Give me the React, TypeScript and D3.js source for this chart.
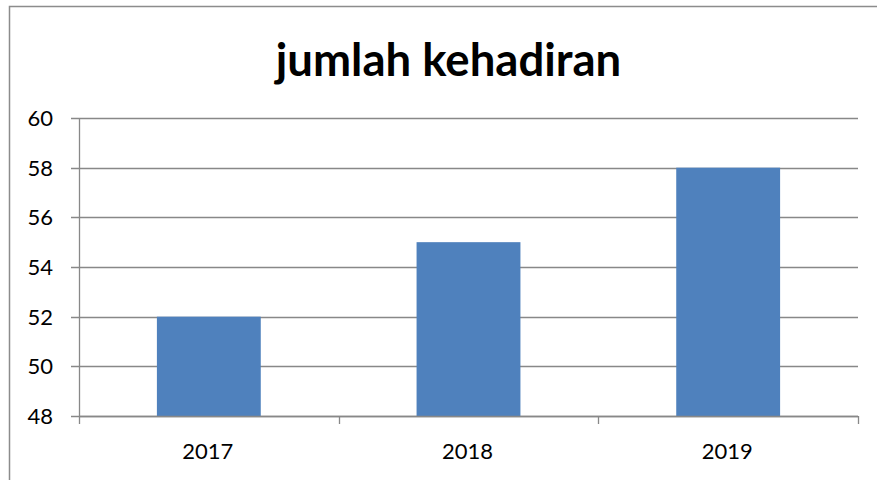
import React from "react";
import * as d3 from "d3";

const categories = ["2017", "2018", "2019"];
const values = [52, 55, 58];
const yTicks = [48, 50, 52, 54, 56, 58, 60];
const title = "jumlah kehadiran";

export default function App() {
  const W = 877, H = 480;
  const left = 79, right = 858, top = 118, bottom = 416;
  const x = d3.scaleBand().domain(categories).range([left, right]).paddingInner(0.6).paddingOuter(0.3);
  const xb = d3.scaleBand().domain(categories).range([left, right]);
  const y = d3.scaleLinear().domain([48, 60]).range([bottom, top]);
  const font = "Lato, 'Open Sans', sans-serif";
  const grid = "#888888";
  return (
    <svg width={W} height={H} style={{ position: "absolute", left: 0, top: 0, background: "#fff" }}>
      <rect x={9.5} y={6.5} width={900} height={500} fill="#fff" stroke="#8c8c8c" strokeWidth={1.5} />
      <text x={448.5} y={76} textAnchor="middle" fontFamily={font} fontWeight="bold" fontSize={45.5} fill="#000">{title}</text>
      {yTicks.map(t => (
        <g key={t}>
          <line x1={71} x2={right} y1={Math.round(y(t)) + 0.5} y2={Math.round(y(t)) + 0.5} stroke={grid} strokeWidth={1.3} />
          <text x={53} y={y(t) + 8} textAnchor="end" fontFamily={font} fontSize={22} fill="#000">{t}</text>
        </g>
      ))}
      {categories.map((c, i) => (
        <rect key={c} x={x(c)!} y={y(values[i])} width={x.bandwidth()} height={bottom - y(values[i])} fill="#4F81BD" />
      ))}
      <line x1={left + 0.5} x2={left + 0.5} y1={top} y2={bottom} stroke={grid} strokeWidth={1.3} />
      <line x1={left} x2={right} y1={bottom + 0.5} y2={bottom + 0.5} stroke={grid} strokeWidth={1.3} />
      {[...categories.map(c => xb(c)!), right].map((v, i) => (
        <line key={i} x1={Math.round(v) + 0.5} x2={Math.round(v) + 0.5} y1={bottom} y2={bottom + 8} stroke={grid} strokeWidth={1.3} />
      ))}
      {categories.map(c => (
        <text key={c} x={xb(c)! + xb.bandwidth() / 2 - 1} y={458.5} textAnchor="middle" fontFamily={font} fontSize={22} fill="#000">{c}</text>
      ))}
    </svg>
  );
}
